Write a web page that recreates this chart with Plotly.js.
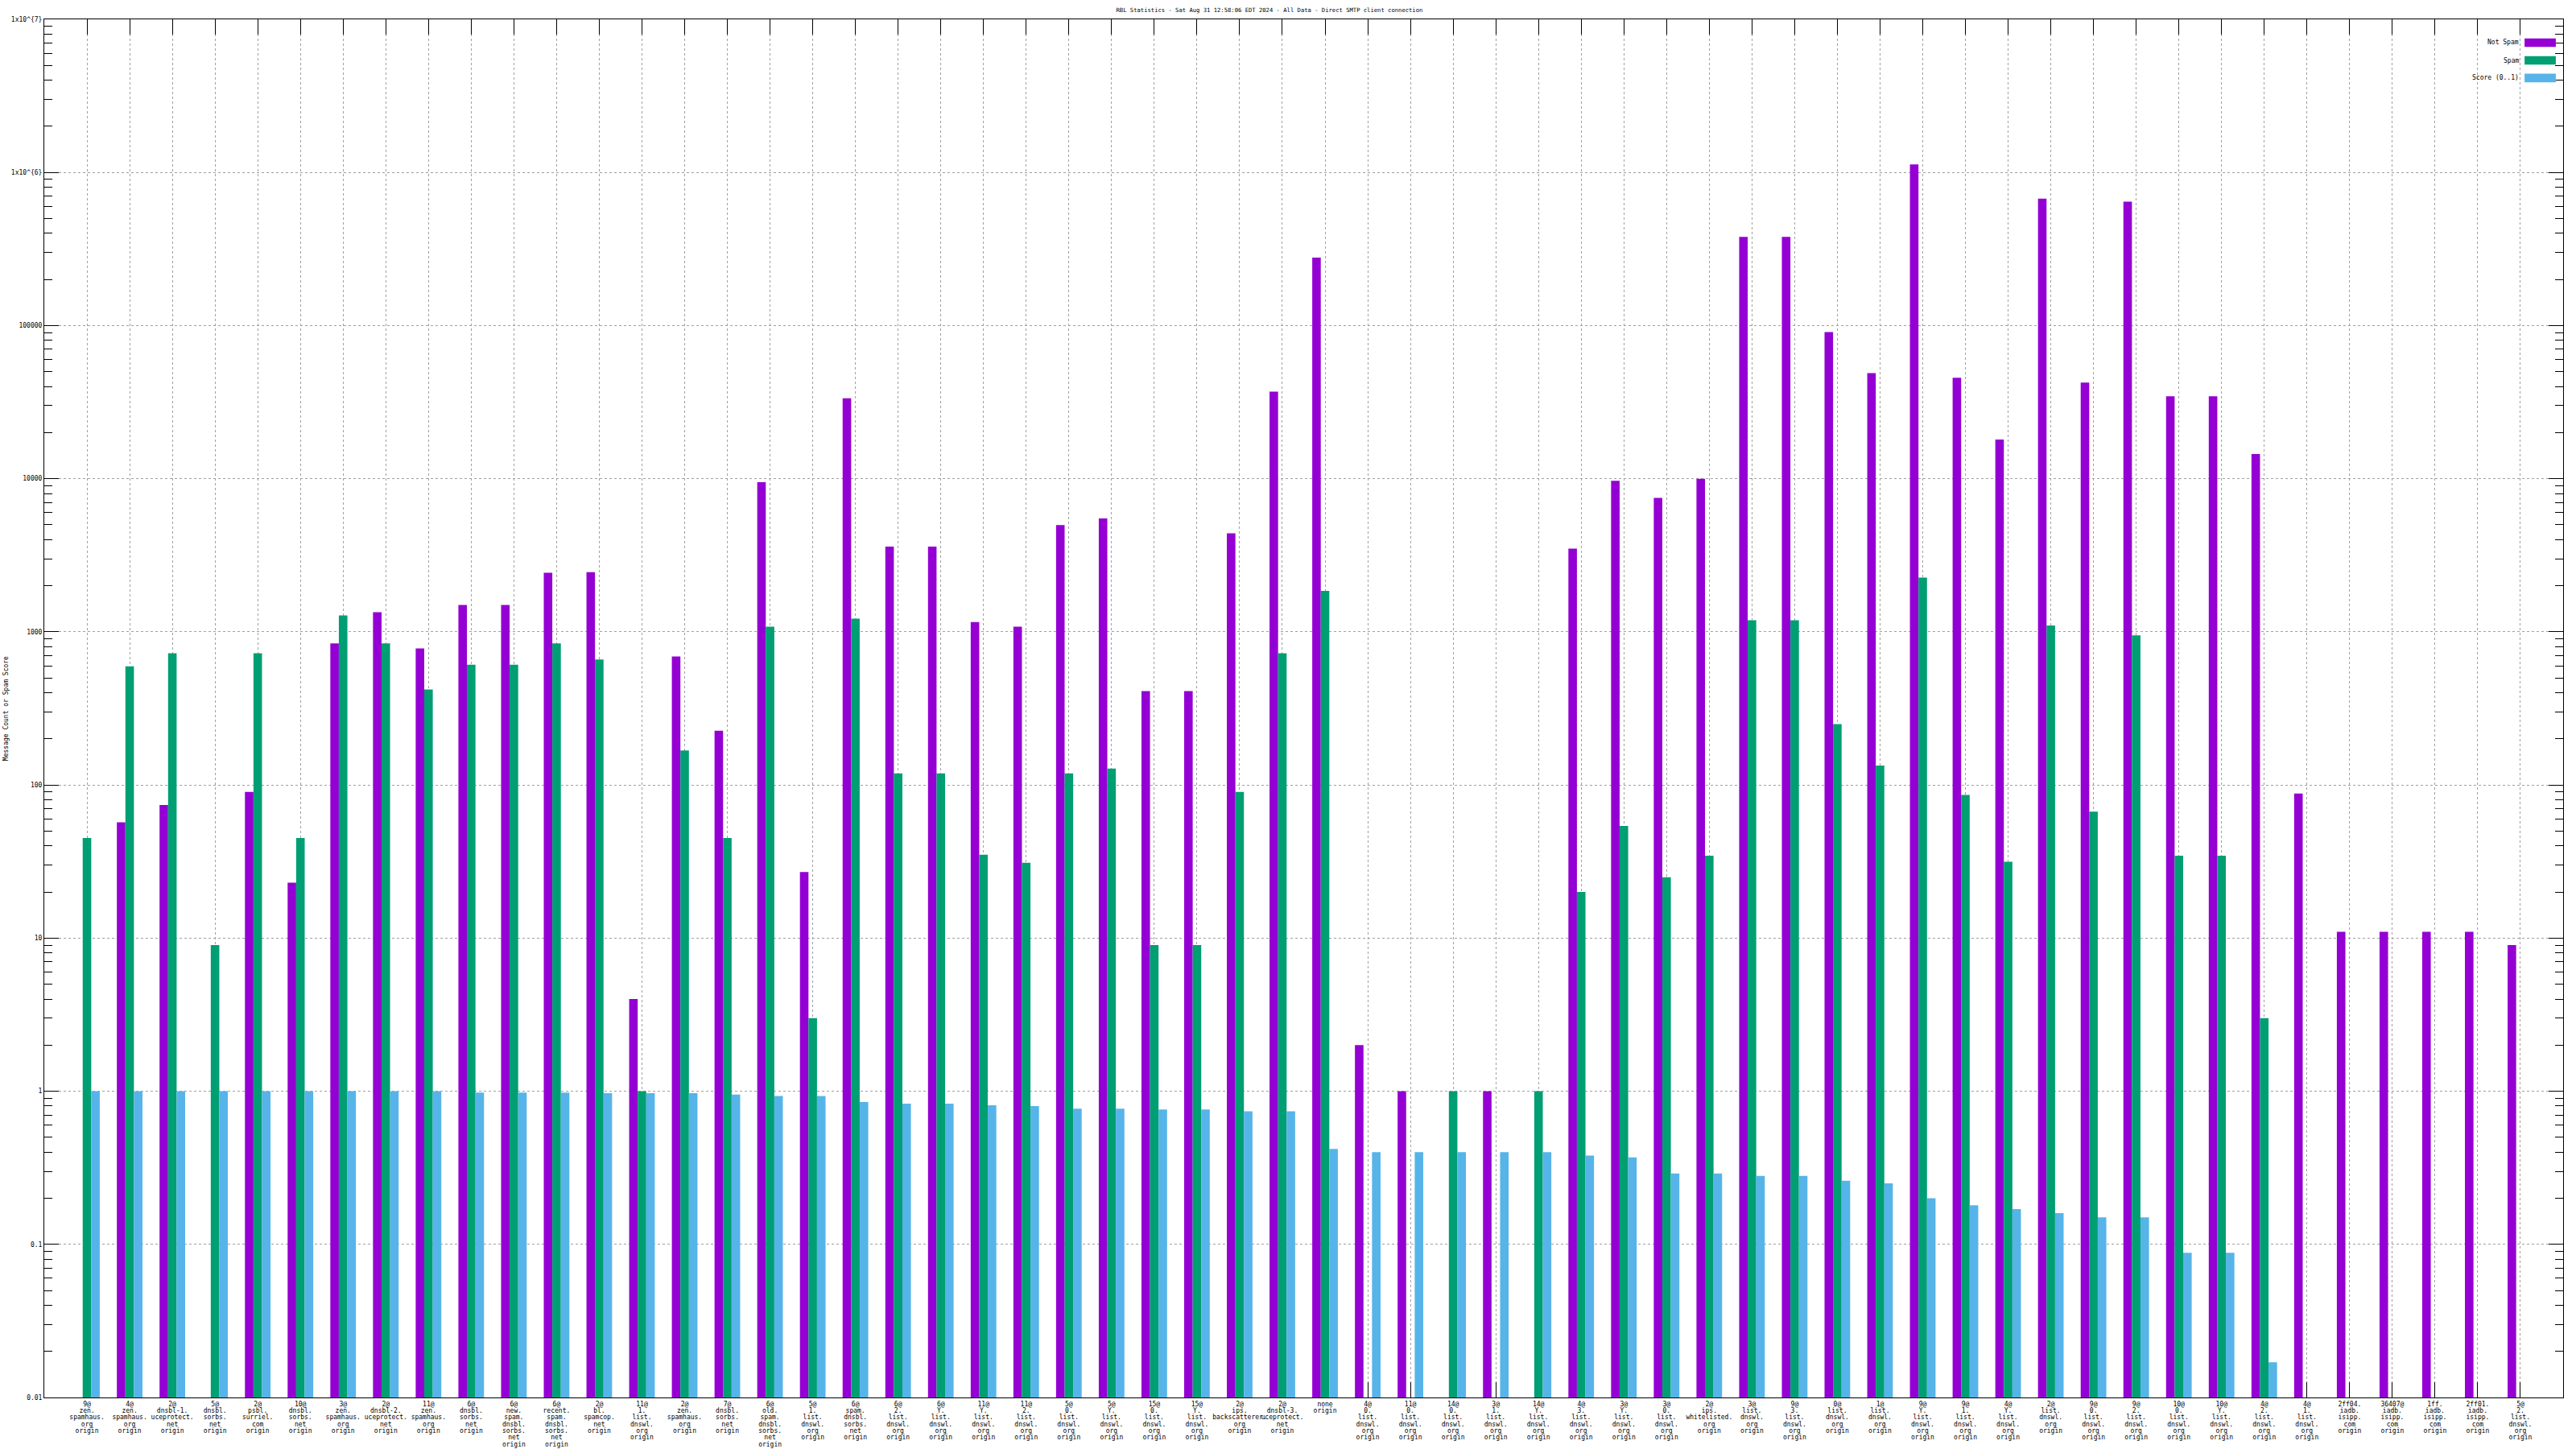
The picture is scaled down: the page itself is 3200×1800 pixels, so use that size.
<!DOCTYPE html>
<html><head><meta charset="utf-8">
<script src="https://cdn.plot.ly/plotly-3.0.1.min.js"></script>
<style>html,body{margin:0;padding:0;background:#fff;} #chart{width:3200px;height:1800px;}</style>
</head><body><div id="chart"></div>
<script>
const categories = [
 "9@<br>zen.<br>spamhaus.<br>org<br>origin",
 "4@<br>zen.<br>spamhaus.<br>org<br>origin",
 "2@<br>dnsbl-1.<br>uceprotect.<br>net<br>origin",
 "5@<br>dnsbl.<br>sorbs.<br>net<br>origin",
 "2@<br>psbl.<br>surriel.<br>com<br>origin",
 "10@<br>dnsbl.<br>sorbs.<br>net<br>origin",
 "3@<br>zen.<br>spamhaus.<br>org<br>origin",
 "2@<br>dnsbl-2.<br>uceprotect.<br>net<br>origin",
 "11@<br>zen.<br>spamhaus.<br>org<br>origin",
 "6@<br>dnsbl.<br>sorbs.<br>net<br>origin",
 "6@<br>new.<br>spam.<br>dnsbl.<br>sorbs.<br>net<br>origin",
 "6@<br>recent.<br>spam.<br>dnsbl.<br>sorbs.<br>net<br>origin",
 "2@<br>bl.<br>spamcop.<br>net<br>origin",
 "11@<br>1.<br>list.<br>dnswl.<br>org<br>origin",
 "2@<br>zen.<br>spamhaus.<br>org<br>origin",
 "7@<br>dnsbl.<br>sorbs.<br>net<br>origin",
 "6@<br>old.<br>spam.<br>dnsbl.<br>sorbs.<br>net<br>origin",
 "5@<br>1.<br>list.<br>dnswl.<br>org<br>origin",
 "6@<br>spam.<br>dnsbl.<br>sorbs.<br>net<br>origin",
 "6@<br>2.<br>list.<br>dnswl.<br>org<br>origin",
 "6@<br>Y.<br>list.<br>dnswl.<br>org<br>origin",
 "11@<br>Y.<br>list.<br>dnswl.<br>org<br>origin",
 "11@<br>2.<br>list.<br>dnswl.<br>org<br>origin",
 "5@<br>0.<br>list.<br>dnswl.<br>org<br>origin",
 "5@<br>Y.<br>list.<br>dnswl.<br>org<br>origin",
 "15@<br>0.<br>list.<br>dnswl.<br>org<br>origin",
 "15@<br>Y.<br>list.<br>dnswl.<br>org<br>origin",
 "2@<br>ips.<br>backscatterer.<br>org<br>origin",
 "2@<br>dnsbl-3.<br>uceprotect.<br>net<br>origin",
 "none<br>origin",
 "4@<br>0.<br>list.<br>dnswl.<br>org<br>origin",
 "11@<br>0.<br>list.<br>dnswl.<br>org<br>origin",
 "14@<br>0.<br>list.<br>dnswl.<br>org<br>origin",
 "3@<br>1.<br>list.<br>dnswl.<br>org<br>origin",
 "14@<br>Y.<br>list.<br>dnswl.<br>org<br>origin",
 "4@<br>3.<br>list.<br>dnswl.<br>org<br>origin",
 "3@<br>Y.<br>list.<br>dnswl.<br>org<br>origin",
 "3@<br>0.<br>list.<br>dnswl.<br>org<br>origin",
 "2@<br>ips.<br>whitelisted.<br>org<br>origin",
 "3@<br>list.<br>dnswl.<br>org<br>origin",
 "9@<br>3.<br>list.<br>dnswl.<br>org<br>origin",
 "0@<br>list.<br>dnswl.<br>org<br>origin",
 "1@<br>list.<br>dnswl.<br>org<br>origin",
 "9@<br>Y.<br>list.<br>dnswl.<br>org<br>origin",
 "9@<br>1.<br>list.<br>dnswl.<br>org<br>origin",
 "4@<br>Y.<br>list.<br>dnswl.<br>org<br>origin",
 "2@<br>list.<br>dnswl.<br>org<br>origin",
 "9@<br>0.<br>list.<br>dnswl.<br>org<br>origin",
 "9@<br>2.<br>list.<br>dnswl.<br>org<br>origin",
 "10@<br>0.<br>list.<br>dnswl.<br>org<br>origin",
 "10@<br>Y.<br>list.<br>dnswl.<br>org<br>origin",
 "4@<br>2.<br>list.<br>dnswl.<br>org<br>origin",
 "4@<br>1.<br>list.<br>dnswl.<br>org<br>origin",
 "2ff04.<br>iadb.<br>isipp.<br>com<br>origin",
 "36407@<br>iadb.<br>isipp.<br>com<br>origin",
 "1ff.<br>iadb.<br>isipp.<br>com<br>origin",
 "2ff01.<br>iadb.<br>isipp.<br>com<br>origin",
 "5@<br>2.<br>list.<br>dnswl.<br>org<br>origin"
];

const notSpam = [
 null, 57, 74, null, 90, 23, 840, 1345, 780, 1500,
 1500, 2430, 2450, 4, 690, 226, 9500, 27, 33500, 3600,
 3600, 1160, 1080, 4980, 5500, 410, 410, 4400, 37000, 278000,
 2, 1, null, 1, null, 3500, 9700, 7500, 10000, 380000,
 380000, 90600, 49000, 1130000, 45600, 18000, 675000, 42500, 645000, 34500,
 34500, 14500, 88, 11, 11, 11, 11, 9
];

const spam = [
 45, 595, 725, 9, 725, 45, 1280, 840, 420, 610,
 610, 840, 660, 1, 168, 45, 1080, 3, 1220, 119,
 119, 35, 31, 119, 128, 9, 9, 90, 725, 1850,
 null, null, 1, null, 1, 20, 54, 25, 34.5, 1190,
 1190, 250, 134, 2260, 86, 31.5, 1100, 67, 950, 34.5,
 34.5, 3, null, null, null, null, null, null
];

const score = [
 1.0, 1.0, 1.0, 1.0, 1.0, 1.0, 1.0, 1.0, 1.0, 0.98,
 0.98, 0.98, 0.97, 0.97, 0.97, 0.95, 0.93, 0.93, 0.85, 0.83,
 0.83, 0.81, 0.80, 0.77, 0.77, 0.76, 0.76, 0.74, 0.74, 0.42,
 0.40, 0.40, 0.40, 0.40, 0.40, 0.38, 0.37, 0.29, 0.29, 0.28,
 0.28, 0.26, 0.25, 0.20, 0.18, 0.17, 0.16, 0.15, 0.15, 0.088,
 0.088, 0.017, null, null, null, null, null, null
];

const seriesNames = ["Not Spam", "Spam", "Score (0..1)"];
const yTickVals = [1e7, 1e6, 1e5, 1e4, 1000, 100, 10, 1, 0.1, 0.01];
const yTickText = ["1x10^{7}", "1x10^{6}", "100000", "10000", "1000", "100", "10", "1", "0.1", "0.01"];
const titleText = "RBL Statistics - Sat Aug 31 12:58:06 EDT 2024 - All Data - Direct SMTP client connection";
const yTitleText = "Message Count or Spam Score";

// ---- styling ----
const colors = ["#9400d3", "#009e73", "#56b4e9"];
const FONT = "DejaVu Sans Mono, monospace";
const X_LINE_EM = 1.04; // compact line spacing of the category labels

const seriesValues = [notSpam, spam, score];
const traces = seriesValues.map((vals, i) => ({
  type: "bar",
  name: seriesNames[i],
  x: categories,
  y: vals,
  marker: { color: colors[i], line: { width: 0 } },
  showlegend: false,
  hoverinfo: "x+y+name"
}));

// minor log ticks (axis structure)
const minorVals = [];
for (let e = -2; e < 7; e++) for (let d = 2; d <= 9; d++) minorVals.push(d * Math.pow(10, e));

// gnuplot-style legend (text left, swatch right)
const shapes = [];
const annotations = [];
const legY = [0.9831, 0.9702, 0.9574];
seriesNames.forEach((n, i) => {
  shapes.push({ type: "rect", xref: "paper", yref: "paper",
    x0: 0.9847, x1: 0.9971, y0: legY[i] - 0.0031, y1: legY[i] + 0.0031,
    fillcolor: colors[i], line: { width: 0 } });
  annotations.push({ xref: "paper", yref: "paper", x: 0.9831, y: legY[i],
    xanchor: "right", yanchor: "middle", showarrow: false, text: n,
    font: { family: FONT, size: 8, color: "#000" } });
});
// y axis title
annotations.push({ xref: "paper", yref: "paper", x: -0.0153, y: 0.5,
  xanchor: "center", yanchor: "middle", textangle: -90, showarrow: false,
  text: yTitleText, font: { family: FONT, size: 8, color: "#000" } });

const layout = {
  width: 3200, height: 1800,
  margin: { l: 55, r: 16, t: 24, b: 64, pad: 0 },
  paper_bgcolor: "#fff", plot_bgcolor: "#fff",
  title: { text: titleText, x: 0.4928, xref: "container", y: 0.9933, yref: "container",
    yanchor: "middle", font: { family: FONT, size: 7.2, color: "#000" } },
  barmode: "group", bargap: 0.4, bargroupgap: 0,
  xaxis: {
    type: "category", range: [-1, 58],
    showline: true, linecolor: "#000", linewidth: 1, mirror: "ticks",
    ticks: "inside", ticklen: 19, tickcolor: "#000", tickwidth: 1,
    showgrid: true, gridcolor: "#a0a0a0", griddash: "3px,3px", gridwidth: 1,
    tickangle: 0, tickfont: { family: FONT, size: 8, color: "#000" },
    layer: "below traces", zeroline: false, automargin: false
  },
  yaxis: {
    type: "log", range: [-2, 7],
    tickmode: "array", tickvals: yTickVals, ticktext: yTickText,
    showline: true, linecolor: "#000", linewidth: 1, mirror: "ticks",
    ticks: "inside", ticklen: 18, tickcolor: "#000", tickwidth: 1,
    showgrid: true, gridcolor: "#a0a0a0", griddash: "3px,3px", gridwidth: 1,
    tickfont: { family: FONT, size: 8, color: "#000" },
    minor: { tickmode: "array", tickvals: minorVals, ticks: "inside", ticklen: 10,
      tickcolor: "#000", tickwidth: 1, showgrid: false },
    zeroline: false, automargin: false
  },
  shapes: shapes,
  annotations: annotations,
  showlegend: false
};

Plotly.newPlot("chart", traces, layout, { staticPlot: true, displayModeBar: false }).then(gd => {
  // tighten the multi-line category labels to the reference's line pitch
  gd.querySelectorAll(".xtick text tspan.line").forEach(t => {
    const dy = parseFloat(t.getAttribute("dy") || "0");
    t.setAttribute("dy", (dy / 1.3 * X_LINE_EM) + "em");
  });
});
</script>
</body></html>
